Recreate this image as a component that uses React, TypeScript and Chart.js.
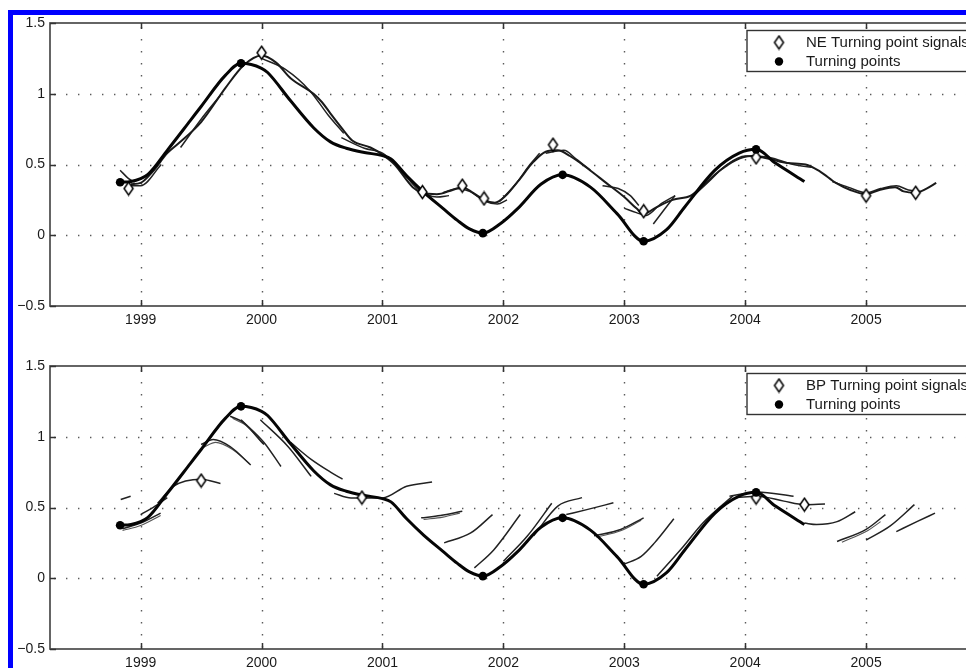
import React, { useEffect, useRef } from "react";
import { Chart, registerables } from "chart.js";

Chart.register(...registerables);

type Pt = [number, number];

// ---------- axis data ----------
const X_TICKS = [1999, 2000, 2001, 2002, 2003, 2004, 2005];
const Y_TICKS = [-0.5, 0, 0.5, 1, 1.5];
const X_MIN = 1998.25;
const X_MAX = 2006;
const Y_MIN = -0.5;
const Y_MAX = 1.5;

// ---------- series shared by both panels ----------
const trueCurve: Pt[] = [
  [1998.83, 0.375], [1998.92, 0.38], [1999.06, 0.43], [1999.22, 0.6], [1999.41, 0.81],
  [1999.5, 0.91], [1999.7, 1.13], [1999.83, 1.215], [2000.0, 1.18], [2000.05, 1.15],
  [2000.24, 0.95], [2000.43, 0.76], [2000.57, 0.66], [2000.7, 0.615], [2000.85, 0.585],
  [2001.0, 0.563], [2001.07, 0.54], [2001.2, 0.42], [2001.34, 0.305], [2001.5, 0.19],
  [2001.62, 0.105], [2001.72, 0.045], [2001.83, 0.015], [2001.98, 0.085], [2002.12, 0.19],
  [2002.31, 0.36], [2002.49, 0.427], [2002.72, 0.34], [2002.94, 0.153], [2003.16, -0.042],
  [2003.35, 0.04], [2003.5, 0.2], [2003.75, 0.46], [2003.95, 0.58], [2004.09, 0.607],
  [2004.25, 0.51], [2004.49, 0.38],
];
const turningPoints: Pt[] = [
  [1998.83, 0.375], [1999.83, 1.215], [2001.83, 0.015], [2002.49, 0.427], [2003.16, -0.042], [2004.09, 0.607],
];

// ---------- top panel: NE ----------
const neSignals: Pt[] = [
  [1998.9, 0.33], [2000.0, 1.29], [2001.33, 0.305], [2001.66, 0.35], [2001.84, 0.26],
  [2002.41, 0.64], [2003.16, 0.17], [2004.09, 0.55], [2005.0, 0.28], [2005.41, 0.3],
];
const neMainLine: Pt[] = [
  [1998.92, 0.36], [1999.0, 0.37], [1999.1, 0.45], [1999.22, 0.58], [1999.3, 0.64],
  [1999.5, 0.8], [1999.7, 1.04], [1999.85, 1.2], [2000.0, 1.27], [2000.12, 1.22],
  [2000.24, 1.11], [2000.43, 1.0], [2000.5, 0.94], [2000.57, 0.86], [2000.67, 0.75],
  [2000.75, 0.67], [2000.9, 0.62], [2001.0, 0.57], [2001.1, 0.5], [2001.25, 0.34],
  [2001.33, 0.3], [2001.45, 0.29], [2001.58, 0.32], [2001.66, 0.34], [2001.75, 0.3],
  [2001.84, 0.25], [2001.93, 0.23], [2002.02, 0.28], [2002.12, 0.38], [2002.25, 0.52],
  [2002.35, 0.59], [2002.45, 0.6], [2002.55, 0.56], [2002.7, 0.47], [2002.85, 0.37],
  [2003.0, 0.27], [2003.1, 0.19], [2003.16, 0.15], [2003.25, 0.19], [2003.4, 0.25],
  [2003.55, 0.28], [2003.65, 0.35], [2003.78, 0.45], [2003.92, 0.53], [2004.05, 0.56],
  [2004.2, 0.54], [2004.35, 0.51], [2004.5, 0.5], [2004.62, 0.45], [2004.75, 0.37],
  [2004.87, 0.32], [2005.0, 0.29], [2005.11, 0.32], [2005.24, 0.34], [2005.31, 0.31],
  [2005.41, 0.3], [2005.5, 0.33], [2005.58, 0.37],
];
const neSegments: Pt[][] = [
  [[1998.83, 0.46], [1998.9, 0.4], [1998.95, 0.375]],
  [[1998.92, 0.35], [1999.0, 0.35], [1999.17, 0.5]],
  [[1999.33, 0.62], [1999.5, 0.82], [1999.66, 0.99]],
  [[2000.0, 1.25], [2000.2, 1.17], [2000.4, 1.02], [2000.55, 0.85], [2000.68, 0.72]],
  [[2000.66, 0.69], [2000.85, 0.615], [2001.0, 0.58], [2001.15, 0.46], [2001.3, 0.32], [2001.45, 0.27], [2001.55, 0.28]],
  [[2001.5, 0.3], [2001.62, 0.33], [2001.72, 0.31], [2001.85, 0.24], [2001.95, 0.22], [2002.03, 0.25]],
  [[2001.97, 0.24], [2002.1, 0.36], [2002.22, 0.5], [2002.3, 0.58]],
  [[2002.35, 0.58], [2002.5, 0.6], [2002.6, 0.54], [2002.72, 0.46]],
  [[2002.82, 0.35], [2002.95, 0.33], [2003.05, 0.28], [2003.12, 0.21]],
  [[2003.0, 0.19], [2003.1, 0.16], [2003.18, 0.14], [2003.3, 0.22], [2003.42, 0.28]],
  [[2003.24, 0.08], [2003.32, 0.17], [2003.42, 0.28]],
  [[2003.55, 0.26], [2003.7, 0.38], [2003.85, 0.5], [2004.0, 0.56], [2004.2, 0.55], [2004.4, 0.5], [2004.55, 0.48]],
  [[2004.72, 0.38], [2004.85, 0.34], [2005.0, 0.3], [2005.12, 0.33], [2005.25, 0.35], [2005.35, 0.32], [2005.45, 0.31]],
];

// ---------- bottom panel: BP ----------
const bpSignals: Pt[] = [
  [1999.5, 0.69], [2000.83, 0.57], [2004.09, 0.57], [2004.49, 0.52],
];
const bpSegments: Pt[][] = [
  [[1998.835, 0.556], [1998.917, 0.58]],
  [[1998.85, 0.35], [1999.0, 0.39], [1999.165, 0.46]],
  [[1999.0, 0.45], [1999.14, 0.52], [1999.22, 0.57]],
  [[1999.14, 0.53], [1999.27, 0.65], [1999.5, 0.7], [1999.66, 0.67]],
  [[1999.5, 0.945], [1999.6, 0.98], [1999.74, 0.93], [1999.91, 0.8]],
  [[1999.74, 1.145], [1999.85, 1.1], [2000.02, 0.945]],
  [[1999.83, 1.12], [2000.02, 0.96], [2000.16, 0.79]],
  [[1999.99, 1.12], [2000.22, 0.93], [2000.41, 0.72]],
  [[2000.24, 0.96], [2000.41, 0.84], [2000.57, 0.75], [2000.67, 0.7]],
  [[2000.6, 0.6], [2000.74, 0.568], [2001.0, 0.568], [2001.2, 0.65], [2001.41, 0.68]],
  [[2001.32, 0.427], [2001.48, 0.443], [2001.66, 0.473]],
  [[2001.51, 0.25], [2001.73, 0.32], [2001.91, 0.45]],
  [[2001.76, 0.073], [2001.92, 0.2], [2002.14, 0.45]],
  [[2002.0, 0.12], [2002.2, 0.3], [2002.4, 0.53]],
  [[2002.25, 0.3], [2002.45, 0.51], [2002.65, 0.57]],
  [[2002.52, 0.45], [2002.69, 0.485], [2002.91, 0.533]],
  [[2002.75, 0.3], [2002.97, 0.345], [2003.16, 0.427]],
  [[2003.0, 0.1], [2003.14, 0.155], [2003.25, 0.25], [2003.41, 0.42]],
  [[2003.27, 0.014], [2003.49, 0.226], [2003.65, 0.39], [2003.9, 0.584]],
  [[2003.87, 0.58], [2004.1, 0.61], [2004.4, 0.58]],
  [[2003.93, 0.57], [2004.1, 0.58], [2004.32, 0.545], [2004.49, 0.52], [2004.66, 0.525]],
  [[2004.49, 0.39], [2004.59, 0.38], [2004.76, 0.4], [2004.91, 0.47]],
  [[2004.76, 0.26], [2005.0, 0.345], [2005.16, 0.45]],
  [[2005.0, 0.27], [2005.2, 0.37], [2005.4, 0.52]],
  [[2005.25, 0.33], [2005.42, 0.4], [2005.57, 0.46]],
];
const bpDoubleSegments: Pt[][] = [
  [[1998.85, 0.337], [1999.0, 0.372], [1999.165, 0.443]],
  [[1999.52, 0.925], [1999.62, 0.96], [1999.76, 0.91], [1999.9, 0.81]],
  [[1999.76, 1.13], [1999.87, 1.08], [2000.0, 0.96]],
  [[2001.34, 0.415], [2001.5, 0.432], [2001.64, 0.46]],
  [[2002.77, 0.29], [2002.97, 0.335], [2003.14, 0.41]],
  [[2004.8, 0.255], [2005.0, 0.33], [2005.12, 0.4]],
];

const FONT = "'Liberation Sans', Arial, Helvetica, sans-serif";

function makeDiamond(): HTMLCanvasElement {
  const c = document.createElement("canvas");
  c.width = 13;
  c.height = 16;
  const g = c.getContext("2d")!;
  g.beginPath();
  g.moveTo(6.5, 1.5);
  g.lineTo(11, 8);
  g.lineTo(6.5, 14.5);
  g.lineTo(2, 8);
  g.closePath();
  g.fillStyle = "#ffffff";
  g.fill();
  g.strokeStyle = "#000000";
  g.lineWidth = 1.5;
  g.stroke();
  return c;
}

const toXY = (pts: Pt[]) => pts.map(([x, y]) => ({ x, y }));

function makePlugin(legendLabel: string, diamond: HTMLCanvasElement) {
  return {
    id: "matlabAxes",
    beforeDatasetsDraw(chart: any) {
      const { ctx, chartArea: a, scales } = chart;
      ctx.save();
      ctx.strokeStyle = "#5a5a5a";
      ctx.lineWidth = 1.4;
      ctx.setLineDash([1.4, 10.6]);
      for (const v of X_TICKS) {
        const px = Math.round(scales.x.getPixelForValue(v)) + 0.5;
        ctx.beginPath();
        ctx.moveTo(px, a.top + 4);
        ctx.lineTo(px, a.bottom);
        ctx.stroke();
      }
      for (const v of Y_TICKS) {
        if (v === Y_MIN || v === Y_MAX) continue;
        const py = Math.round(scales.y.getPixelForValue(v)) + 0.5;
        ctx.beginPath();
        ctx.moveTo(a.left + 4, py);
        ctx.lineTo(a.right, py);
        ctx.stroke();
      }
      ctx.restore();
    },
    afterDatasetsDraw(chart: any) {
      const { ctx, chartArea: a, scales } = chart;
      ctx.save();
      ctx.setLineDash([]);
      ctx.strokeStyle = "#4a4a4a";
      ctx.lineWidth = 1.7;
      ctx.strokeRect(a.left, a.top, a.right - a.left, a.bottom - a.top);
      ctx.lineWidth = 1.5;
      ctx.strokeStyle = "#333";
      for (const v of X_TICKS) {
        const px = Math.round(scales.x.getPixelForValue(v)) + 0.5;
        ctx.beginPath();
        ctx.moveTo(px, a.bottom);
        ctx.lineTo(px, a.bottom - 6);
        ctx.moveTo(px, a.top);
        ctx.lineTo(px, a.top + 6);
        ctx.stroke();
      }
      for (const v of Y_TICKS) {
        const py = Math.round(scales.y.getPixelForValue(v)) + 0.5;
        ctx.beginPath();
        ctx.moveTo(a.left, py);
        ctx.lineTo(a.left + 6, py);
        ctx.stroke();
      }
      // legend box
      const bx = 747;
      const by = a.top + 7.5;
      const bw = 400;
      const bh = 41;
      ctx.fillStyle = "#ffffff";
      ctx.fillRect(bx, by, bw, bh);
      ctx.strokeStyle = "#333";
      ctx.lineWidth = 1.4;
      ctx.strokeRect(bx, by, bw, bh);
      const r1 = by + 12;
      const r2 = by + 31;
      ctx.drawImage(diamond, 779 - diamond.width / 2, r1 - diamond.height / 2);
      ctx.beginPath();
      ctx.arc(779, r2, 4.2, 0, Math.PI * 2);
      ctx.fillStyle = "#000";
      ctx.fill();
      ctx.fillStyle = "#1a1a1a";
      ctx.font = `15px ${FONT}`;
      ctx.textBaseline = "middle";
      ctx.textAlign = "left";
      ctx.fillText(legendLabel, 806, r1);
      ctx.fillText("Turning points", 806, r2);
      ctx.restore();
    },
  };
}

type PanelProps = {
  top: number;
  mainLine: Pt[] | null;
  segments: Pt[][];
  doubles: Pt[][];
  signals: Pt[];
  legendLabel: string;
};

function Panel({ top, mainLine, segments, doubles, signals, legendLabel }: PanelProps) {
  const ref = useRef<HTMLCanvasElement>(null);
  useEffect(() => {
    const diamond = makeDiamond();
    const datasets: any[] = [];
    datasets.push({
      data: toXY(turningPoints),
      showLine: false,
      pointStyle: "circle",
      pointRadius: 4.3,
      backgroundColor: "#000",
      borderWidth: 0,
      order: 0,
    });
    datasets.push({
      data: toXY(signals),
      showLine: false,
      pointStyle: diamond,
      pointRadius: 5,
      order: 0,
    });
    datasets.push({
      data: toXY(trueCurve),
      showLine: true,
      pointRadius: 0,
      borderColor: "#050505",
      borderWidth: 3,
      cubicInterpolationMode: "monotone",
      order: 1,
    });
    if (mainLine) {
      datasets.push({
        data: toXY(mainLine),
        showLine: true,
        pointRadius: 0,
        borderColor: "#1a1a1a",
        borderWidth: 2,
        cubicInterpolationMode: "monotone",
        order: 2,
      });
    }
    for (const s of segments) {
      datasets.push({
        data: toXY(s),
        showLine: true,
        pointRadius: 0,
        borderColor: "#222",
        borderWidth: 1.5,
        cubicInterpolationMode: "monotone",
        order: 3,
      });
    }
    for (const s of doubles) {
      datasets.push({
        data: toXY(s),
        showLine: true,
        pointRadius: 0,
        borderColor: "#555",
        borderWidth: 1.1,
        cubicInterpolationMode: "monotone",
        order: 4,
      });
    }
    const chart = new Chart(ref.current!, {
      type: "scatter",
      data: { datasets },
      options: {
        animation: false,
        responsive: false,
        devicePixelRatio: 1,
        events: [],
        layout: { padding: { top: 23, right: 13, left: 0, bottom: 0 } },
        plugins: { legend: { display: false }, tooltip: { enabled: false } },
        scales: {
          x: {
            type: "linear",
            min: X_MIN,
            max: X_MAX,
            afterBuildTicks: (s: any) => {
              s.ticks = X_TICKS.map((v) => ({ value: v }));
            },
            afterFit: (s: any) => {
              s.height = 30;
            },
            grid: { display: false, drawTicks: false },
            border: { display: false },
            ticks: {
              padding: 6,
              color: "#1a1a1a",
              autoSkip: false,
              maxRotation: 0,
              font: { family: FONT, size: 14 },
              callback: (v: any) => String(v),
            },
          },
          y: {
            type: "linear",
            min: Y_MIN,
            max: Y_MAX,
            afterBuildTicks: (s: any) => {
              s.ticks = Y_TICKS.map((v) => ({ value: v }));
            },
            afterFit: (s: any) => {
              s.width = 50;
            },
            grid: { display: false, drawTicks: false },
            border: { display: false },
            ticks: {
              padding: 5,
              color: "#1a1a1a",
              font: { family: FONT, size: 14 },
              callback: (v: any) => (v < 0 ? "\u2212" + String(Math.abs(v)) : String(v)),
            },
          },
        },
      } as any,
      plugins: [makePlugin(legendLabel, diamond)],
    });
    return () => chart.destroy();
  }, []);
  return (
    <canvas
      ref={ref}
      width={1000}
      height={336}
      style={{ position: "absolute", left: 0, top, width: 1000, height: 336 }}
    />
  );
}

export default function App() {
  return (
    <div
      style={{
        position: "fixed",
        left: 0,
        top: 0,
        width: 966,
        height: 668,
        overflow: "hidden",
        background: "#ffffff",
      }}
    >
      <Panel
        top={0}
        mainLine={neMainLine}
        segments={neSegments}
        doubles={[]}
        signals={neSignals}
        legendLabel="NE Turning point signals"
      />
      <Panel
        top={343}
        mainLine={null}
        segments={bpSegments}
        doubles={bpDoubleSegments}
        signals={bpSignals}
        legendLabel="BP Turning point signals"
      />
      <div
        style={{
          position: "absolute",
          left: 8,
          top: 10,
          width: 2000,
          height: 2000,
          borderLeft: "5px solid #0000ff",
          borderTop: "5px solid #0000ff",
          pointerEvents: "none",
        }}
      />
    </div>
  );
}
